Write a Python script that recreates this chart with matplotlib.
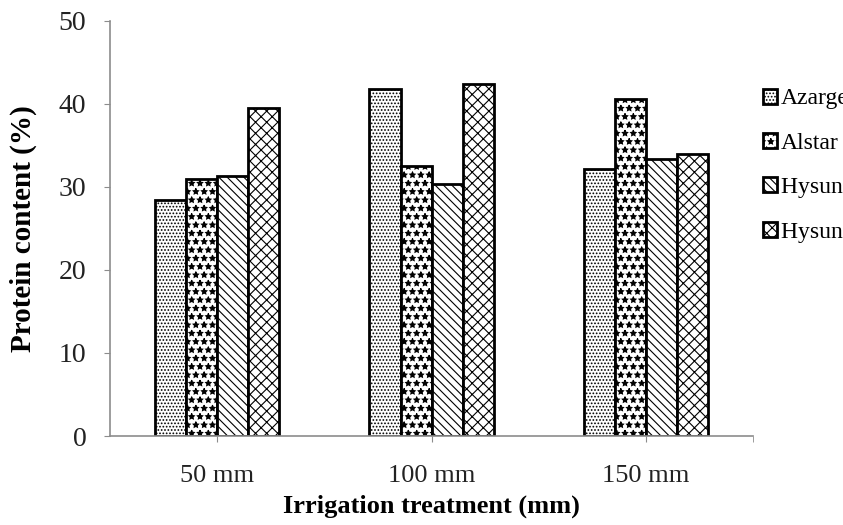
import numpy as np
import matplotlib.pyplot as plt

plt.rcParams['font.family'] = ['Liberation Serif', 'DejaVu Serif']
plt.rcParams['hatch.linewidth'] = 0.8

# data
treatments = ['50 mm', '100 mm', '150 mm']
varieties = ['Azargel', 'Alstar', 'Hysun 33', 'Hysun 38']
azargel = [28.4, 41.8, 32.2]
alstar = [31.0, 32.5, 40.6]
hysun33 = [31.3, 30.4, 33.3]
hysun38 = [39.5, 42.4, 34.0]

hatches = ['.....', '**', '\\\\\\\\', 'xxx']

fig = plt.figure(figsize=(8.43, 5.25), dpi=100)
ax = fig.add_axes([0.1305, 0.1695, 0.763, 0.791])

x = np.arange(len(treatments))
w = 0.145
series = [azargel, alstar, hysun33, hysun38]
for i, vals in enumerate(series):
    ax.bar(x + (i - 1.5) * w, vals, w, color='white', edgecolor='black',
           linewidth=2, hatch=hatches[i], label=varieties[i])

ax.set_xlim(-0.5, 2.5)
ax.set_ylim(0, 50)
ax.set_yticks(range(0, 51, 10))
ax.set_xticks(x)
ax.set_xticklabels(treatments)
ax.set_xticks([2.5], minor=True)

for s in ['top', 'right']:
    ax.spines[s].set_visible(False)
for s in ['left', 'bottom']:
    ax.spines[s].set_color('#8c8c8c')
    ax.spines[s].set_linewidth(1.2)

ax.tick_params(axis='y', length=4, color='#8c8c8c', labelsize=20, pad=13, labelcolor='#222222')
ax.tick_params(axis='x', which='both', length=4, color='#8c8c8c', labelsize=19, pad=17,
               labelcolor='#222222')

ax.set_ylabel('Protein content (%)', fontsize=21, fontweight='bold', labelpad=16)
ax.set_xlabel('Irrigation treatment (mm)', fontsize=19, fontweight='bold', labelpad=5)

# legend runs off the right edge, as in the original
fig.legend(loc='upper left', bbox_to_anchor=(0.905, 0.8315), frameon=False,
           fontsize=17, handlelength=0.6, handleheight=0.6, handletextpad=0.15,
           labelspacing=0.99, borderaxespad=0, borderpad=0)

fig.savefig('out.png', dpi=100)
